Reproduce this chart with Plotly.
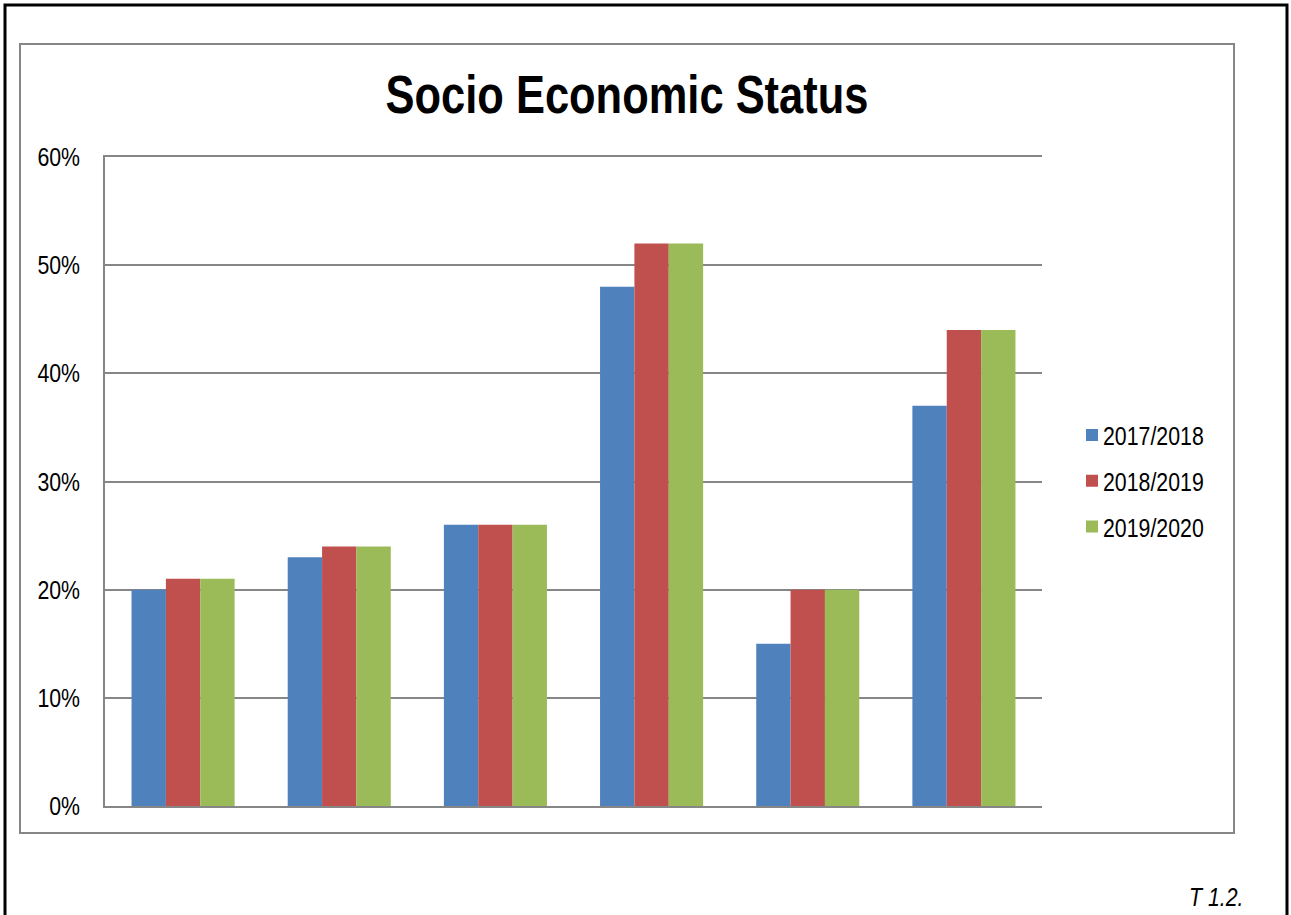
import plotly.graph_objects as go

# Data (share of pupils per socio-economic group)
categories = ["Group 1", "Group 2", "Group 3", "Group 4", "Group 5", "Group 6"]
series_names = ["2017/2018", "2018/2019", "2019/2020"]
values_2017_2018 = [0.20, 0.23, 0.26, 0.48, 0.15, 0.37]
values_2018_2019 = [0.21, 0.24, 0.26, 0.52, 0.20, 0.44]
values_2019_2020 = [0.21, 0.24, 0.26, 0.52, 0.20, 0.44]
y_ticks = [0, 0.1, 0.2, 0.3, 0.4, 0.5, 0.6]

colors = ["#4F81BD", "#C0504D", "#9BBB59"]
FONT = "Liberation Sans, Arial, sans-serif"

W, H = 1291, 915
L, R, T, B = 105, 249, 157, 109
pw, ph = W - L - R, H - T - B


def px_x(x):
    return (x - L) / pw


def px_y(y):
    return (H - B - y) / ph


fig = go.Figure()
for name, vals, col in zip(series_names,
                           [values_2017_2018, values_2018_2019, values_2019_2020],
                           colors):
    fig.add_trace(go.Bar(x=categories, y=vals, name=name, legendgroup=name,
                         marker=dict(color=col, line=dict(width=0))))

fig.update_layout(
    width=W, height=H,
    margin=dict(l=L, r=R, t=T, b=B),
    paper_bgcolor="white", plot_bgcolor="white",
    barmode="group", bargap=0.34, bargroupgap=0,
    font=dict(family=FONT, size=26, color="black"),
    title=dict(text="<b>Socio Economic Status</b>", x=px_x(627), xref="paper",
               xanchor="center", y=1 - 94 / H, yanchor="middle",
               font=dict(size=53, family=FONT, color="black")),
    showlegend=True,
    legend=dict(x=px_x(1072), xanchor="left", y=px_y(481), yanchor="middle",
                font=dict(size=26), tracegroupgap=9,
                bgcolor="rgba(0,0,0,0)", itemwidth=30),
    xaxis=dict(showticklabels=False, ticks="", showgrid=False, mirror=True,
               showline=True, linecolor="#868686", linewidth=1.5),
    yaxis=dict(range=[0, 0.6], tickvals=y_ticks, tickformat=".0%",
               showgrid=True, gridcolor="#868686", gridwidth=1.5,
               showline=True, linecolor="#868686", linewidth=1.5,
               zeroline=False, ticks="", ticklabelstandoff=18),
    shapes=[
        dict(type="rect", xref="paper", yref="paper",
             x0=px_x(5), x1=px_x(1287), y0=px_y(940), y1=px_y(5),
             line=dict(color="black", width=3), fillcolor="rgba(0,0,0,0)"),
        dict(type="rect", xref="paper", yref="paper",
             x0=px_x(20), x1=px_x(1234), y0=px_y(833), y1=px_y(44),
             line=dict(color="#868686", width=2), fillcolor="rgba(0,0,0,0)"),
    ],
    annotations=[
        dict(text="<i>T 1.2.</i>", xref="paper", yref="paper",
             x=px_x(1251), y=px_y(897), xanchor="right", yanchor="middle",
             showarrow=False, font=dict(size=26, family=FONT)),
    ],
)

# no narrow font installed: squeeze text horizontally to mimic Arial Narrow,
# and drop the default body margin so the figure sits at the page corner
post = """
document.body.style.margin = '0';
var gd = document.getElementById('{plot_id}');
gd.querySelectorAll('text').forEach(function (t) {
  var x = parseFloat(t.getAttribute('x') || 0);
  var y = parseFloat(t.getAttribute('y') || 0);
  if (t.classList.contains('legendtext')) {
    x = x - 9;
    t.setAttribute('x', x);
  }
  var tr = t.getAttribute('transform') || '';
  t.setAttribute('transform', tr + ' translate(' + x + ',' + y + ') scale(0.82,1) translate(' + (-x) + ',' + (-y) + ')');
});
"""

fig.write_html("out.html", post_script=post, config={'displayModeBar': False})
